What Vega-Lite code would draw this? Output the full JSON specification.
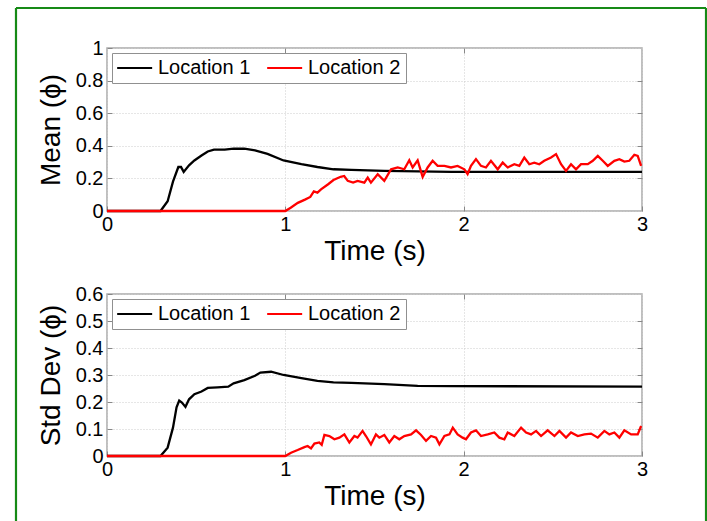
{
  "$schema": "https://vega.github.io/schema/vega-lite/v6.json",
  "padding": {"left": 14, "top": 6, "right": 0, "bottom": 0},
  "background": "white",
  "bounds": "flush",
  "spacing": 83,
  "config": {
    "font": "Liberation Sans",
    "view": {"stroke": "#aaaaaa", "strokeWidth": 1.5},
    "axis": {
      "domain": false,
      "grid": true,
      "gridColor": "#cccccc",
      "gridDash": [1, 2],
      "gridWidth": 1,
      "tickSize": -5,
      "tickColor": "#888888",
      "labelFont": "Liberation Sans",
      "labelFontSize": 20,
      "labelColor": "black",
      "labelOverlap": false,
      "labelBound": false,
      "labelFlush": false,
      "titleFont": "Liberation Sans",
      "titleFontSize": 28,
      "titleFontWeight": "normal",
      "titleColor": "black"
    },
    "axisX": {"labelPadding": 8, "titlePadding": 3},
    "axisY": {"labelPadding": 9, "titlePadding": 10},
    "legend": {
      "orient": "top-left",
      "direction": "horizontal",
      "offset": 5,
      "title": null,
      "strokeColor": "#909090",
      "fillColor": "white",
      "padding": 5,
      "labelFont": "Liberation Sans",
      "labelFontSize": 20,
      "labelColor": "black",
      "symbolType": "M-1.686,0H4.314",
      "symbolSize": 136,
      "symbolStrokeWidth": 2,
      "columnPadding": 12,
      "labelOffset": 21
    }
  },
  "vconcat": [
    {
      "width": 535,
      "height": 163,
      "resolve": {"axis": {"x": "independent", "y": "independent"}},
      "layer": [
        {
          "data": {"values": [
            {"t": 0, "v": 0, "loc": "Location 1"},
            {"t": 0.30, "v": 0, "loc": "Location 1"},
            {"t": 0.34, "v": 0.06, "loc": "Location 1"},
            {"t": 0.37, "v": 0.18, "loc": "Location 1"},
            {"t": 0.40, "v": 0.27, "loc": "Location 1"},
            {"t": 0.415, "v": 0.27, "loc": "Location 1"},
            {"t": 0.43, "v": 0.24, "loc": "Location 1"},
            {"t": 0.46, "v": 0.28, "loc": "Location 1"},
            {"t": 0.49, "v": 0.31, "loc": "Location 1"},
            {"t": 0.53, "v": 0.34, "loc": "Location 1"},
            {"t": 0.565, "v": 0.365, "loc": "Location 1"},
            {"t": 0.60, "v": 0.377, "loc": "Location 1"},
            {"t": 0.66, "v": 0.377, "loc": "Location 1"},
            {"t": 0.71, "v": 0.383, "loc": "Location 1"},
            {"t": 0.77, "v": 0.382, "loc": "Location 1"},
            {"t": 0.83, "v": 0.372, "loc": "Location 1"},
            {"t": 0.90, "v": 0.35, "loc": "Location 1"},
            {"t": 0.99, "v": 0.31, "loc": "Location 1"},
            {"t": 1.09, "v": 0.287, "loc": "Location 1"},
            {"t": 1.18, "v": 0.27, "loc": "Location 1"},
            {"t": 1.27, "v": 0.256, "loc": "Location 1"},
            {"t": 1.37, "v": 0.252, "loc": "Location 1"},
            {"t": 1.555, "v": 0.246, "loc": "Location 1"},
            {"t": 1.93, "v": 0.24, "loc": "Location 1"},
            {"t": 3.0, "v": 0.24, "loc": "Location 1"},
            {"t": 0, "v": 0, "loc": "Location 2"},
            {"t": 1.0, "v": 0, "loc": "Location 2"},
            {"t": 1.03, "v": 0.02, "loc": "Location 2"},
            {"t": 1.07, "v": 0.05, "loc": "Location 2"},
            {"t": 1.11, "v": 0.07, "loc": "Location 2"},
            {"t": 1.14, "v": 0.086, "loc": "Location 2"},
            {"t": 1.16, "v": 0.12, "loc": "Location 2"},
            {"t": 1.18, "v": 0.113, "loc": "Location 2"},
            {"t": 1.2, "v": 0.133, "loc": "Location 2"},
            {"t": 1.24, "v": 0.164, "loc": "Location 2"},
            {"t": 1.27, "v": 0.19, "loc": "Location 2"},
            {"t": 1.31, "v": 0.21, "loc": "Location 2"},
            {"t": 1.33, "v": 0.215, "loc": "Location 2"},
            {"t": 1.35, "v": 0.185, "loc": "Location 2"},
            {"t": 1.38, "v": 0.174, "loc": "Location 2"},
            {"t": 1.405, "v": 0.185, "loc": "Location 2"},
            {"t": 1.443, "v": 0.174, "loc": "Location 2"},
            {"t": 1.462, "v": 0.205, "loc": "Location 2"},
            {"t": 1.48, "v": 0.174, "loc": "Location 2"},
            {"t": 1.518, "v": 0.226, "loc": "Location 2"},
            {"t": 1.555, "v": 0.185, "loc": "Location 2"},
            {"t": 1.593, "v": 0.256, "loc": "Location 2"},
            {"t": 1.63, "v": 0.267, "loc": "Location 2"},
            {"t": 1.667, "v": 0.256, "loc": "Location 2"},
            {"t": 1.695, "v": 0.311, "loc": "Location 2"},
            {"t": 1.714, "v": 0.267, "loc": "Location 2"},
            {"t": 1.742, "v": 0.311, "loc": "Location 2"},
            {"t": 1.77, "v": 0.209, "loc": "Location 2"},
            {"t": 1.798, "v": 0.267, "loc": "Location 2"},
            {"t": 1.826, "v": 0.308, "loc": "Location 2"},
            {"t": 1.854, "v": 0.277, "loc": "Location 2"},
            {"t": 1.892, "v": 0.277, "loc": "Location 2"},
            {"t": 1.929, "v": 0.267, "loc": "Location 2"},
            {"t": 1.966, "v": 0.277, "loc": "Location 2"},
            {"t": 2.004, "v": 0.256, "loc": "Location 2"},
            {"t": 2.022, "v": 0.226, "loc": "Location 2"},
            {"t": 2.041, "v": 0.277, "loc": "Location 2"},
            {"t": 2.069, "v": 0.318, "loc": "Location 2"},
            {"t": 2.097, "v": 0.277, "loc": "Location 2"},
            {"t": 2.125, "v": 0.267, "loc": "Location 2"},
            {"t": 2.153, "v": 0.308, "loc": "Location 2"},
            {"t": 2.191, "v": 0.256, "loc": "Location 2"},
            {"t": 2.219, "v": 0.297, "loc": "Location 2"},
            {"t": 2.247, "v": 0.267, "loc": "Location 2"},
            {"t": 2.284, "v": 0.287, "loc": "Location 2"},
            {"t": 2.312, "v": 0.277, "loc": "Location 2"},
            {"t": 2.34, "v": 0.328, "loc": "Location 2"},
            {"t": 2.368, "v": 0.287, "loc": "Location 2"},
            {"t": 2.396, "v": 0.297, "loc": "Location 2"},
            {"t": 2.424, "v": 0.287, "loc": "Location 2"},
            {"t": 2.452, "v": 0.308, "loc": "Location 2"},
            {"t": 2.49, "v": 0.328, "loc": "Location 2"},
            {"t": 2.518, "v": 0.349, "loc": "Location 2"},
            {"t": 2.546, "v": 0.287, "loc": "Location 2"},
            {"t": 2.574, "v": 0.246, "loc": "Location 2"},
            {"t": 2.602, "v": 0.287, "loc": "Location 2"},
            {"t": 2.63, "v": 0.256, "loc": "Location 2"},
            {"t": 2.658, "v": 0.287, "loc": "Location 2"},
            {"t": 2.696, "v": 0.287, "loc": "Location 2"},
            {"t": 2.724, "v": 0.308, "loc": "Location 2"},
            {"t": 2.752, "v": 0.338, "loc": "Location 2"},
            {"t": 2.78, "v": 0.308, "loc": "Location 2"},
            {"t": 2.808, "v": 0.277, "loc": "Location 2"},
            {"t": 2.845, "v": 0.308, "loc": "Location 2"},
            {"t": 2.873, "v": 0.318, "loc": "Location 2"},
            {"t": 2.901, "v": 0.303, "loc": "Location 2"},
            {"t": 2.929, "v": 0.308, "loc": "Location 2"},
            {"t": 2.957, "v": 0.345, "loc": "Location 2"},
            {"t": 2.976, "v": 0.338, "loc": "Location 2"},
            {"t": 2.995, "v": 0.277, "loc": "Location 2"}
          ]},
          "mark": {"type": "line", "strokeWidth": 2.3},
          "encoding": {
            "x": {"field": "t", "type": "quantitative", "scale": {"domain": [0, 3], "nice": false, "zero": false}, "axis": {"values": [0, 1, 2, 3], "title": "Time (s)", "format": "~g"}},
            "y": {"field": "v", "type": "quantitative", "scale": {"domain": [0, 1], "nice": false}, "axis": {"values": [0, 0.2, 0.4, 0.6, 0.8, 1], "title": "Mean (ϕ)", "format": "~g"}},
            "color": {"field": "loc", "type": "nominal", "scale": {"domain": ["Location 1", "Location 2"], "range": ["#000000", "#ff0000"]}, "legend": {"title": null}}
          }
        },
        {
          "data": {"values": [{}]},
          "mark": {"type": "rule", "color": "#168a16", "strokeWidth": 2.2},
          "encoding": {
            "x": {"datum": -0.5103, "type": "quantitative", "scale": {"domain": [0, 3]}, "axis": {"orient": "top", "values": [1, 2], "labels": false, "grid": false, "title": null}},
            "y": {"datum": 1.2454, "type": "quantitative", "scale": {"domain": [0, 1]}, "axis": {"orient": "right", "values": [0.2, 0.4, 0.6, 0.8], "labels": false, "grid": false, "title": null}},
            "y2": {"datum": -2.2}
          }
        },
        {
          "data": {"values": [{}]},
          "mark": {"type": "rule", "color": "#168a16", "strokeWidth": 2.2},
          "encoding": {
            "x": {"datum": 3.359, "type": "quantitative", "scale": {"domain": [0, 3]}, "axis": null},
            "y": {"datum": 1.2454, "type": "quantitative", "scale": {"domain": [0, 1]}, "axis": null},
            "y2": {"datum": -2.2}
          }
        },
        {
          "data": {"values": [{}]},
          "mark": {"type": "rule", "color": "#168a16", "strokeWidth": 2.2},
          "encoding": {
            "x": {"datum": -0.5103, "type": "quantitative", "scale": {"domain": [0, 3]}, "axis": null},
            "x2": {"datum": 3.359},
            "y": {"datum": 1.2454, "type": "quantitative", "scale": {"domain": [0, 1]}, "axis": null}
          }
        }
      ]
    },
    {
      "width": 535,
      "height": 162,
      "resolve": {"axis": {"x": "independent", "y": "independent"}},
      "data": {"values": [
        {"t": 0, "v": 0, "loc": "Location 1"},
        {"t": 0.30, "v": 0, "loc": "Location 1"},
        {"t": 0.34, "v": 0.031, "loc": "Location 1"},
        {"t": 0.37, "v": 0.105, "loc": "Location 1"},
        {"t": 0.39, "v": 0.18, "loc": "Location 1"},
        {"t": 0.405, "v": 0.205, "loc": "Location 1"},
        {"t": 0.42, "v": 0.198, "loc": "Location 1"},
        {"t": 0.44, "v": 0.182, "loc": "Location 1"},
        {"t": 0.46, "v": 0.21, "loc": "Location 1"},
        {"t": 0.49, "v": 0.229, "loc": "Location 1"},
        {"t": 0.53, "v": 0.239, "loc": "Location 1"},
        {"t": 0.565, "v": 0.252, "loc": "Location 1"},
        {"t": 0.62, "v": 0.254, "loc": "Location 1"},
        {"t": 0.68, "v": 0.257, "loc": "Location 1"},
        {"t": 0.71, "v": 0.269, "loc": "Location 1"},
        {"t": 0.77, "v": 0.281, "loc": "Location 1"},
        {"t": 0.83, "v": 0.297, "loc": "Location 1"},
        {"t": 0.86, "v": 0.309, "loc": "Location 1"},
        {"t": 0.92, "v": 0.312, "loc": "Location 1"},
        {"t": 0.99, "v": 0.30, "loc": "Location 1"},
        {"t": 1.09, "v": 0.288, "loc": "Location 1"},
        {"t": 1.18, "v": 0.278, "loc": "Location 1"},
        {"t": 1.27, "v": 0.273, "loc": "Location 1"},
        {"t": 1.37, "v": 0.271, "loc": "Location 1"},
        {"t": 1.555, "v": 0.266, "loc": "Location 1"},
        {"t": 1.742, "v": 0.26, "loc": "Location 1"},
        {"t": 1.929, "v": 0.259, "loc": "Location 1"},
        {"t": 3.0, "v": 0.257, "loc": "Location 1"},
        {"t": 0, "v": 0, "loc": "Location 2"},
        {"t": 1.0, "v": 0, "loc": "Location 2"},
        {"t": 1.032, "v": 0.012, "loc": "Location 2"},
        {"t": 1.069, "v": 0.022, "loc": "Location 2"},
        {"t": 1.107, "v": 0.033, "loc": "Location 2"},
        {"t": 1.125, "v": 0.037, "loc": "Location 2"},
        {"t": 1.144, "v": 0.028, "loc": "Location 2"},
        {"t": 1.163, "v": 0.046, "loc": "Location 2"},
        {"t": 1.19, "v": 0.05, "loc": "Location 2"},
        {"t": 1.204, "v": 0.041, "loc": "Location 2"},
        {"t": 1.219, "v": 0.078, "loc": "Location 2"},
        {"t": 1.247, "v": 0.074, "loc": "Location 2"},
        {"t": 1.275, "v": 0.062, "loc": "Location 2"},
        {"t": 1.303, "v": 0.068, "loc": "Location 2"},
        {"t": 1.331, "v": 0.08, "loc": "Location 2"},
        {"t": 1.359, "v": 0.05, "loc": "Location 2"},
        {"t": 1.387, "v": 0.074, "loc": "Location 2"},
        {"t": 1.405, "v": 0.068, "loc": "Location 2"},
        {"t": 1.433, "v": 0.093, "loc": "Location 2"},
        {"t": 1.452, "v": 0.074, "loc": "Location 2"},
        {"t": 1.48, "v": 0.043, "loc": "Location 2"},
        {"t": 1.508, "v": 0.08, "loc": "Location 2"},
        {"t": 1.527, "v": 0.068, "loc": "Location 2"},
        {"t": 1.555, "v": 0.078, "loc": "Location 2"},
        {"t": 1.583, "v": 0.05, "loc": "Location 2"},
        {"t": 1.611, "v": 0.074, "loc": "Location 2"},
        {"t": 1.639, "v": 0.062, "loc": "Location 2"},
        {"t": 1.667, "v": 0.074, "loc": "Location 2"},
        {"t": 1.705, "v": 0.08, "loc": "Location 2"},
        {"t": 1.733, "v": 0.095, "loc": "Location 2"},
        {"t": 1.761, "v": 0.078, "loc": "Location 2"},
        {"t": 1.789, "v": 0.056, "loc": "Location 2"},
        {"t": 1.817, "v": 0.074, "loc": "Location 2"},
        {"t": 1.845, "v": 0.068, "loc": "Location 2"},
        {"t": 1.864, "v": 0.043, "loc": "Location 2"},
        {"t": 1.892, "v": 0.074, "loc": "Location 2"},
        {"t": 1.92, "v": 0.08, "loc": "Location 2"},
        {"t": 1.939, "v": 0.105, "loc": "Location 2"},
        {"t": 1.966, "v": 0.08, "loc": "Location 2"},
        {"t": 1.994, "v": 0.068, "loc": "Location 2"},
        {"t": 2.013, "v": 0.062, "loc": "Location 2"},
        {"t": 2.041, "v": 0.087, "loc": "Location 2"},
        {"t": 2.069, "v": 0.095, "loc": "Location 2"},
        {"t": 2.097, "v": 0.074, "loc": "Location 2"},
        {"t": 2.135, "v": 0.08, "loc": "Location 2"},
        {"t": 2.172, "v": 0.087, "loc": "Location 2"},
        {"t": 2.2, "v": 0.068, "loc": "Location 2"},
        {"t": 2.228, "v": 0.062, "loc": "Location 2"},
        {"t": 2.247, "v": 0.087, "loc": "Location 2"},
        {"t": 2.284, "v": 0.074, "loc": "Location 2"},
        {"t": 2.322, "v": 0.105, "loc": "Location 2"},
        {"t": 2.35, "v": 0.087, "loc": "Location 2"},
        {"t": 2.378, "v": 0.08, "loc": "Location 2"},
        {"t": 2.406, "v": 0.093, "loc": "Location 2"},
        {"t": 2.434, "v": 0.074, "loc": "Location 2"},
        {"t": 2.471, "v": 0.095, "loc": "Location 2"},
        {"t": 2.509, "v": 0.074, "loc": "Location 2"},
        {"t": 2.537, "v": 0.093, "loc": "Location 2"},
        {"t": 2.574, "v": 0.068, "loc": "Location 2"},
        {"t": 2.602, "v": 0.087, "loc": "Location 2"},
        {"t": 2.64, "v": 0.074, "loc": "Location 2"},
        {"t": 2.677, "v": 0.08, "loc": "Location 2"},
        {"t": 2.714, "v": 0.083, "loc": "Location 2"},
        {"t": 2.752, "v": 0.068, "loc": "Location 2"},
        {"t": 2.789, "v": 0.093, "loc": "Location 2"},
        {"t": 2.817, "v": 0.08, "loc": "Location 2"},
        {"t": 2.845, "v": 0.087, "loc": "Location 2"},
        {"t": 2.873, "v": 0.068, "loc": "Location 2"},
        {"t": 2.901, "v": 0.095, "loc": "Location 2"},
        {"t": 2.939, "v": 0.08, "loc": "Location 2"},
        {"t": 2.976, "v": 0.08, "loc": "Location 2"},
        {"t": 2.995, "v": 0.111, "loc": "Location 2"}
      ]},
      "layer": [
        {
          "mark": {"type": "line", "strokeWidth": 2.3},
          "encoding": {
            "x": {"field": "t", "type": "quantitative", "scale": {"domain": [0, 3], "nice": false, "zero": false}, "axis": {"values": [0, 1, 2, 3], "title": "Time (s)", "format": "~g"}},
            "y": {"field": "v", "type": "quantitative", "scale": {"domain": [0, 0.6], "nice": false}, "axis": {"values": [0, 0.1, 0.2, 0.3, 0.4, 0.5, 0.6], "title": "Std Dev (ϕ)", "format": "~g"}},
            "color": {"field": "loc", "type": "nominal", "scale": {"domain": ["Location 1", "Location 2"], "range": ["#000000", "#ff0000"]}, "legend": {"title": null}}
          }
        },
        {
          "data": {"values": [{}]},
          "mark": {"type": "rule", "opacity": 0},
          "encoding": {
            "x": {"datum": 1, "type": "quantitative", "scale": {"domain": [0, 3]}, "axis": {"orient": "top", "values": [1, 2], "labels": false, "grid": false, "title": null}},
            "y": {"datum": 0.1, "type": "quantitative", "scale": {"domain": [0, 0.6]}, "axis": {"orient": "right", "values": [0.1, 0.2, 0.3, 0.4, 0.5], "labels": false, "grid": false, "title": null}}
          }
        }
      ]
    }
  ],
  "resolve": {"legend": {"color": "independent"}, "scale": {"color": "independent"}}
}
